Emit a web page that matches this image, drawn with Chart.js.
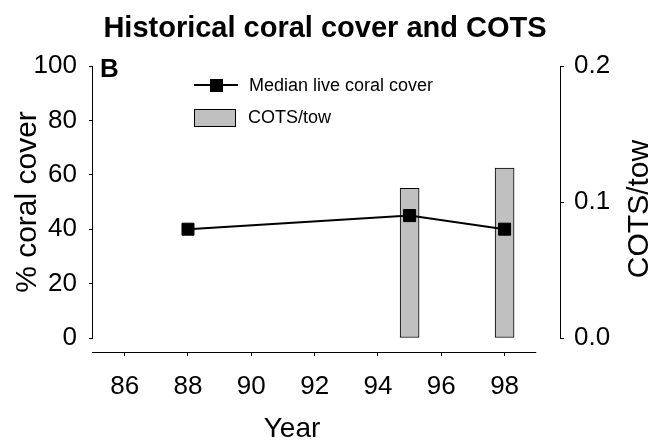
<!DOCTYPE html>
<html>
<head>
<meta charset="utf-8">
<script src="https://cdn.jsdelivr.net/npm/chart.js@4.4.1/dist/chart.umd.min.js"></script>
<style>
    html, body { margin: 0; padding: 0; background: #fff; }
</style>
</head>
<body>
<canvas id="coral-chart" width="659" height="441"></canvas>
<script>
const coverYears = [88, 95, 98];
const coverValues = [40, 45, 40];
const cotsYears = [95, 98];
const cotsValues = [0.11, 0.125];
const yearTicks = [86, 88, 90, 92, 94, 96, 98];
const coverTicks = [0, 20, 40, 60, 80, 100];
const cotsTicks = [0, 0.1, 0.2];
const yearRange = [85, 99];

const FONT = "'Liberation Sans', Arial, sans-serif";
// room between the zero line and the year axis, as a share of the y range
const GAP = 14 / 272;

function toPoints(xs, ys) {
    return xs.map((x, i) => ({ x: x, y: ys[i] }));
}

function useTicks(values) {
    return (scale) => {
        scale.ticks = values.map(v => ({ value: v }));
    };
}

function fixedWidth(w) {
    return (scale) => { scale.width = w; };
}

function drawText(ctx, text, x, y, font, rotate) {
    ctx.save();
    ctx.translate(x, y);
    if (rotate) {
        ctx.rotate(-Math.PI / 2);
    }
    ctx.font = font;
    ctx.fillStyle = '#000';
    ctx.textAlign = 'center';
    ctx.textBaseline = 'alphabetic';
    ctx.fillText(text, 0, 0);
    ctx.restore();
}

// axis lines, titles, panel letter and legend
const decorations = {
    id: 'decorations',
    afterDraw(chart) {
        const ctx = chart.ctx;
        const { x, y, y2 } = chart.scales;
        const area = chart.chartArea;
        const [line, bars] = chart.data.datasets;

        ctx.save();
        ctx.strokeStyle = '#000';
        ctx.lineWidth = 1;
        ctx.beginPath();
        ctx.moveTo(area.left - 0.5, y.getPixelForValue(coverTicks[coverTicks.length - 1]));
        ctx.lineTo(area.left - 0.5, y.getPixelForValue(0) + 0.5);
        ctx.moveTo(area.right + 0.5, y2.getPixelForValue(cotsTicks[cotsTicks.length - 1]));
        ctx.lineTo(area.right + 0.5, y2.getPixelForValue(0) + 0.5);
        ctx.moveTo(x.getPixelForValue(yearRange[0]) - 1, area.bottom + 0.5);
        ctx.lineTo(x.getPixelForValue(yearRange[1]), area.bottom + 0.5);
        ctx.stroke();
        ctx.restore();

        drawText(ctx, 'Historical coral cover and COTS', 325, 37, 'bold 29px ' + FONT, false);
        drawText(ctx, '% coral cover', 36, 202, '30px ' + FONT, true);
        drawText(ctx, 'COTS/tow', 648, 209, '30px ' + FONT, true);
        drawText(ctx, 'Year', 292, 437, '28px ' + FONT, false);

        ctx.save();
        ctx.font = 'bold 26px ' + FONT;
        ctx.fillStyle = '#000';
        ctx.fillText('B', 100, 77);

        // legend
        ctx.font = '18px ' + FONT;
        ctx.textBaseline = 'middle';
        ctx.strokeStyle = line.borderColor;
        ctx.lineWidth = line.borderWidth;
        ctx.beginPath();
        ctx.moveTo(194, 85);
        ctx.lineTo(238, 85);
        ctx.stroke();
        ctx.fillStyle = line.pointBackgroundColor;
        ctx.fillRect(210, 79, 13, 13);
        ctx.fillStyle = '#000';
        ctx.fillText(line.label, 249, 86);

        ctx.fillStyle = bars.backgroundColor;
        ctx.fillRect(194, 109, 41, 17);
        ctx.strokeStyle = bars.borderColor;
        ctx.lineWidth = 1;
        ctx.strokeRect(194.5, 109.5, 41, 17);
        ctx.fillStyle = '#000';
        ctx.fillText(bars.label, 248, 118);
        ctx.restore();
    }
};

new Chart(document.getElementById('coral-chart'), {
    data: {
        datasets: [{
            type: 'line',
            label: 'Median live coral cover',
            data: toPoints(coverYears, coverValues),
            yAxisID: 'y',
            order: 0,
            borderColor: '#000',
            borderWidth: 2,
            pointStyle: 'rect',
            pointRadius: 8.5,
            pointBorderWidth: 1,
            pointBackgroundColor: '#000',
            pointBorderColor: '#000',
            tension: 0
        }, {
            type: 'bar',
            label: 'COTS/tow',
            data: toPoints(cotsYears, cotsValues),
            yAxisID: 'y2',
            order: 1,
            backgroundColor: '#c0c0c0',
            borderColor: '#000',
            borderWidth: 1,
            borderSkipped: false,
            barThickness: 19
        }]
    },
    options: {
        responsive: false,
        animation: false,
        devicePixelRatio: 1,
        layout: { padding: { top: 66, left: 0, right: 0, bottom: 0 } },
        plugins: {
            legend: { display: false },
            title: { display: false },
            tooltip: { enabled: false }
        },
        scales: {
            x: {
                type: 'linear',
                offset: false,
                min: yearRange[0],
                max: 99.75,
                afterBuildTicks: useTicks(yearTicks),
                afterFit: (scale) => { scale.height = 89; },
                border: { display: false },
                grid: { offset: false, drawOnChartArea: false, drawTicks: true, tickLength: 4, color: '#000' },
                ticks: {
                    autoSkip: false,
                    maxRotation: 0,
                    padding: 15,
                    color: '#000',
                    font: { family: FONT, size: 26 },
                    callback: (v) => String(v)
                }
            },
            y: {
                type: 'linear',
                position: 'left',
                min: -GAP * 100,
                max: 100,
                afterBuildTicks: useTicks(coverTicks),
                afterFit: fixedWidth(93),
                border: { display: false },
                grid: { drawOnChartArea: false, drawTicks: true, tickLength: 4, color: '#000' },
                ticks: {
                    padding: 12,
                    color: '#000',
                    font: { family: FONT, size: 26 },
                    callback: (v) => String(v)
                }
            },
            y2: {
                type: 'linear',
                position: 'right',
                min: -GAP * 0.2,
                max: 0.2,
                afterBuildTicks: useTicks(cotsTicks),
                afterFit: fixedWidth(99),
                border: { display: false },
                grid: { drawOnChartArea: false, drawTicks: true, tickLength: 4, color: '#000' },
                ticks: {
                    padding: 10,
                    color: '#000',
                    font: { family: FONT, size: 26 },
                    callback: (v) => v.toFixed(1)
                }
            }
        }
    },
    plugins: [decorations]
});
</script>
</body>
</html>
